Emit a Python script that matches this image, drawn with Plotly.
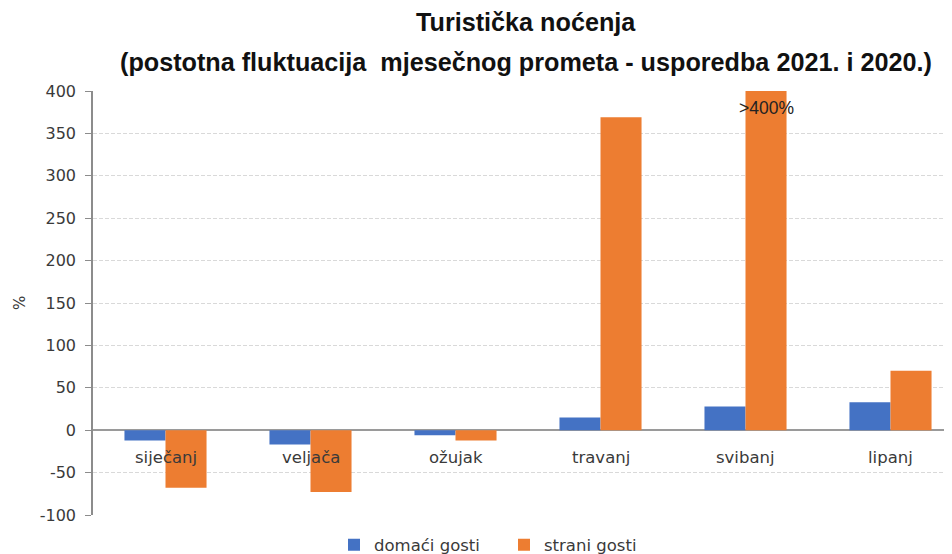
import plotly.graph_objects as go

months = ["siječanj", "veljača", "ožujak", "travanj", "svibanj", "lipanj"]
domaci = [-12, -17, -6, 15, 28, 33]
strani = [-68, -73, -12, 369, 400, 70]
strani_labels = ["", "", "", "", ">400%", ""]
y_ticks = [-100, -50, 0, 50, 100, 150, 200, 250, 300, 350, 400]
y_ticktext = ["-100", "-50", "0", "50", "100", "150", "200", "250", "300", "350", "400"]
title_lines = ["Turistička noćenja",
               "(postotna fluktuacija  mjesečnog prometa - usporedba 2021. i 2020.)"]

BLUE = "#4472C4"
ORANGE = "#ED7D31"
TXT = "#3a3a3a"
FONT = "DejaVu Sans"
TFONT = "Liberation Sans Narrow, Liberation Sans"

PLOT_W = 952 - 85

fig = go.Figure()
fig.add_trace(go.Bar(x=months, y=domaci, name="domaći gosti", marker=dict(color=BLUE, line=dict(width=0))))
fig.add_trace(go.Bar(x=months, y=strani, name="strani gosti", marker=dict(color=ORANGE, line=dict(width=0))))

# category labels at the zero line
for m in months:
    fig.add_annotation(x=m, y=0, text=m, showarrow=False, yanchor="middle", yshift=-27,
                       font=dict(family=FONT, size=16.5, color=TXT))

# ">400%" label on the capped bar
for m, v, lab in zip(months, strani, strani_labels):
    if lab:
        fig.add_annotation(x=m, y=v, text=lab, showarrow=False, yanchor="middle", yshift=-17,
                           xshift=21, font=dict(family="Liberation Sans", size=17.5, color="#222"))

# title lines
for i, t in enumerate(title_lines):
    fig.add_annotation(xref="paper", yref="paper", x=(518 - 85) / PLOT_W, y=1 + (69 - 40 * i) / 424,
                       text="<b>" + t + "</b>", showarrow=False, xanchor="center", yanchor="middle",
                       font=dict(family=TFONT, size=25.2, color="#111"))

# y-axis title
fig.add_annotation(xref="paper", yref="paper", x=-73 / PLOT_W, y=0.5, text="%", textangle=-90,
                   showarrow=False, xanchor="center", yanchor="middle",
                   font=dict(family=FONT, size=15, color=TXT))

fig.update_layout(
    width=952, height=554,
    margin=dict(l=85, r=0, t=83, b=47, autoexpand=False),
    paper_bgcolor="white", plot_bgcolor="white",
    barmode="group", bargap=0.434, bargroupgap=0,
    font=dict(family=FONT, size=15, color=TXT),
    legend=dict(orientation="h", x=(326 - 85) / PLOT_W, xanchor="left", y=-0.071, yanchor="middle",
                entrywidth=125, entrywidthmode="pixels",
                font=dict(family=FONT, size=16.5, color=TXT), traceorder="normal"),
    xaxis=dict(range=[-0.5, -0.5 + PLOT_W / 145], showticklabels=False, showgrid=False, zeroline=False,
               showline=False, ticks="", automargin=False),
    yaxis=dict(range=[-100, 400], tickvals=y_ticks, ticktext=y_ticktext, ticks="outside", ticklen=6,
               tickcolor="#8c8c8c", ticklabelstandoff=6, automargin=False,
               showline=True, linecolor="#8c8c8c", linewidth=1.5,
               showgrid=True, gridcolor="#d9d9d9", griddash="4px,2px", gridwidth=1,
               zeroline=True, zerolinecolor="#9a9a9a", zerolinewidth=2,
               tickfont=dict(family=FONT, size=16, color=TXT)),
)

fig.write_html("out.html")
